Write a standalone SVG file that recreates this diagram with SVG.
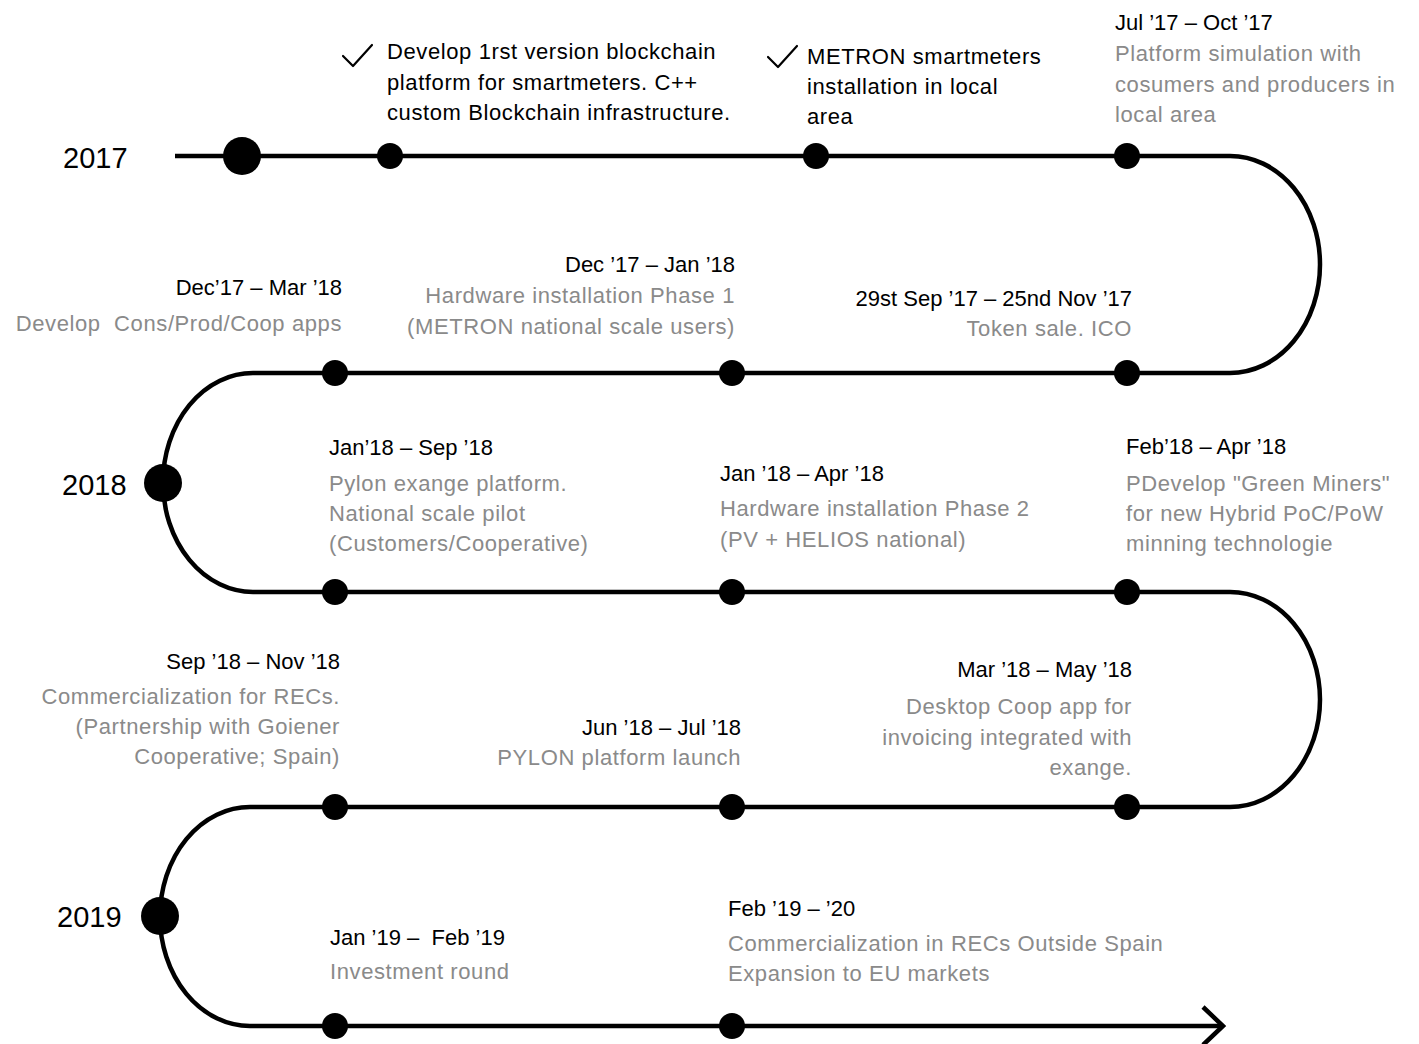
<svg xmlns="http://www.w3.org/2000/svg" width="1419" height="1044" viewBox="0 0 1419 1044">
<style>
text{font-family:"Liberation Sans",Arial,sans-serif;font-size:22px;letter-spacing:0.6px;}
.d{fill:#000;}
.dt{fill:#000;letter-spacing:0;}
.g{fill:#8a8a8a;}
.r{text-anchor:end;}
.y{font-size:29px;fill:#000;letter-spacing:0;}
.line{fill:none;stroke:#000;stroke-width:4.5;}
.chk{fill:none;stroke:#000;stroke-width:2.2;stroke-linecap:round;stroke-linejoin:round;}
.dot{fill:#000;}
</style>
<rect width="1419" height="1044" fill="#fff"/>
<g id="connectors">
<path class="line" d="M175,156 H1230 A90,108.5 0 0 1 1230,373 H253 A90,109.5 0 0 0 253,592 H1230 A90,107.5 0 0 1 1230,807 H250 A90,109.5 0 0 0 250,1026 H1222"/>
<polyline class="line" points="1203,1007 1223,1026 1203,1045"/>
</g>
<g id="year-2017">
<text class="y" x="63" y="168">2017</text>
<circle class="dot" cx="242" cy="156" r="19"/>
</g>
<g id="year-2018">
<text class="y" x="62" y="495">2018</text>
<circle class="dot" cx="163" cy="483" r="19"/>
</g>
<g id="year-2019">
<text class="y" x="57" y="927">2019</text>
<circle class="dot" cx="160" cy="916" r="19"/>
</g>
<g id="n-develop-blockchain">
<circle class="dot" cx="390" cy="156" r="13"/>
<polyline class="chk" points="343,56 353,66 372,45"/>
<text class="d" x="387" y="59">Develop 1rst version blockchain</text>
<text class="d" x="387" y="90">platform for smartmeters. C++</text>
<text class="d" x="387" y="120">custom Blockchain infrastructure.</text>
</g>
<g id="n-metron-local">
<circle class="dot" cx="816" cy="156" r="13"/>
<polyline class="chk" points="768,57 778,67 797,46"/>
<text class="d" x="807" y="64">METRON smartmeters</text>
<text class="d" x="807" y="94">installation in local</text>
<text class="d" x="807" y="124">area</text>
</g>
<g id="n-platform-simulation">
<circle class="dot" cx="1127" cy="156" r="13"/>
<text class="dt" x="1115" y="30">Jul ’17 – Oct ’17</text>
<text class="g" x="1115" y="61">Platform simulation with</text>
<text class="g" x="1115" y="92">cosumers and producers in</text>
<text class="g" x="1115" y="122">local area</text>
</g>
<g id="n-token-sale">
<circle class="dot" cx="1127" cy="373" r="13"/>
<text class="dt r" x="1132" y="306">29st Sep ’17 – 25nd Nov ’17</text>
<text class="g r" x="1132" y="336">Token sale. ICO</text>
</g>
<g id="n-hardware-phase1">
<circle class="dot" cx="732" cy="373" r="13"/>
<text class="dt r" x="735" y="272">Dec ’17 – Jan ’18</text>
<text class="g r" x="735" y="303">Hardware installation Phase 1</text>
<text class="g r" x="735" y="334">(METRON national scale users)</text>
</g>
<g id="n-develop-apps">
<circle class="dot" cx="335" cy="373" r="13"/>
<text class="dt r" x="342" y="295">Dec’17 – Mar ’18</text>
<text class="g r" x="342" y="331" xml:space="preserve">Develop  Cons/Prod/Coop apps</text>
</g>
<g id="n-pylon-exchange">
<circle class="dot" cx="335" cy="592" r="13"/>
<text class="dt" x="329" y="455">Jan’18 – Sep ’18</text>
<text class="g" x="329" y="491">Pylon exange platform.</text>
<text class="g" x="329" y="521">National scale pilot</text>
<text class="g" x="329" y="551">(Customers/Cooperative)</text>
</g>
<g id="n-hardware-phase2">
<circle class="dot" cx="732" cy="592" r="13"/>
<text class="dt" x="720" y="481">Jan ’18 – Apr ’18</text>
<text class="g" x="720" y="516">Hardware installation Phase 2</text>
<text class="g" x="720" y="547">(PV + HELIOS national)</text>
</g>
<g id="n-green-miners">
<circle class="dot" cx="1127" cy="592" r="13"/>
<text class="dt" x="1126" y="454">Feb’18 – Apr ’18</text>
<text class="g" x="1126" y="491">PDevelop "Green Miners"</text>
<text class="g" x="1126" y="521">for new Hybrid PoC/PoW</text>
<text class="g" x="1126" y="551">minning technologie</text>
</g>
<g id="n-desktop-coop">
<circle class="dot" cx="1127" cy="807" r="13"/>
<text class="dt r" x="1132" y="677">Mar ’18 – May ’18</text>
<text class="g r" x="1132" y="714">Desktop Coop app for</text>
<text class="g r" x="1132" y="745">invoicing integrated with</text>
<text class="g r" x="1132" y="775">exange.</text>
</g>
<g id="n-pylon-launch">
<circle class="dot" cx="732" cy="807" r="13"/>
<text class="dt r" x="741" y="735">Jun ’18 – Jul ’18</text>
<text class="g r" x="741" y="765">PYLON platform launch</text>
</g>
<g id="n-commercialization-recs">
<circle class="dot" cx="335" cy="807" r="13"/>
<text class="dt r" x="340" y="669">Sep ’18 – Nov ’18</text>
<text class="g r" x="340" y="704">Commercialization for RECs.</text>
<text class="g r" x="340" y="734">(Partnership with Goiener</text>
<text class="g r" x="340" y="764">Cooperative; Spain)</text>
</g>
<g id="n-investment-round">
<circle class="dot" cx="335" cy="1026" r="13"/>
<text class="dt" x="330" y="945" xml:space="preserve">Jan ’19 –  Feb ’19</text>
<text class="g" x="330" y="979">Investment round</text>
</g>
<g id="n-eu-expansion">
<circle class="dot" cx="732" cy="1026" r="13"/>
<text class="dt" x="728" y="916">Feb ’19 – ’20</text>
<text class="g" x="728" y="951">Commercialization in RECs Outside Spain</text>
<text class="g" x="728" y="981">Expansion to EU markets</text>
</g>
</svg>
